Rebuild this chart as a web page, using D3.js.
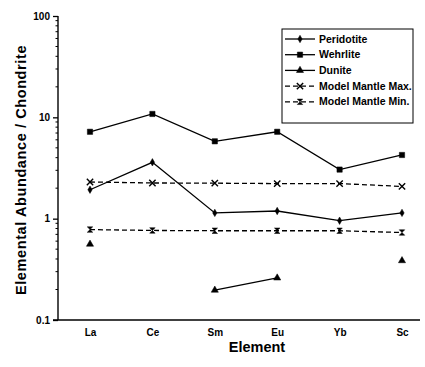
<!DOCTYPE html>
<html>
<head>
<meta charset="utf-8">
<script src="https://cdn.jsdelivr.net/npm/d3@7"></script>
<style>
  body { margin: 0; background: #fff; }
  svg text { font-family: "Liberation Sans", Arial, sans-serif; fill: #000; }
</style>
</head>
<body>
<div id="app"></div>
<script>
// ----- Data -----
const elements = ["La", "Ce", "Sm", "Eu", "Yb", "Sc"];
const peridotite = [1.93, 3.6, 1.14, 1.19, 0.955, 1.14];
const wehrlite = [7.2, 10.8, 5.8, 7.2, 3.05, 4.25];
const dunite = [0.56, null, 0.197, 0.26, null, 0.385];
const modelMax = [2.3, 2.25, 2.24, 2.22, 2.22, 2.08];
const modelMin = [0.78, 0.765, 0.76, 0.76, 0.76, 0.73];
const yTicks = [0.1, 1, 10, 100];
const seriesNames = ["Peridotite", "Wehrlite", "Dunite", "Model Mantle Max.", "Model Mantle Min."];

const W = 425, H = 367;
const svg = d3.select("#app").append("svg").attr("width", W).attr("height", H);

// scales
const x = d3.scalePoint().domain(elements).range([90, 402]);
const y = d3.scaleLog().domain([0.1, 100]).range([320, 16]);
const axisX0 = 58, axisX1 = 420;

// y axis
const yAxis = d3.axisLeft(y)
  .tickValues(yTicks)
  .tickFormat(d => d3.format("~g")(d))
  .tickSize(5)
  .tickPadding(3);
const gy = svg.append("g").attr("transform", `translate(${axisX0},0)`).call(yAxis);
gy.select(".domain").remove();
gy.selectAll(".tick line").attr("stroke", "#000").attr("stroke-width", 1.3);
gy.selectAll(".tick text").attr("font-size", 10).attr("font-weight", "bold");
// minor ticks
const minor = [];
[0.1, 1, 10].forEach(d => { for (let k = 2; k <= 9; k++) minor.push(d * k); });
gy.selectAll(".minor").data(minor).enter().append("line")
  .attr("x1", -2.5).attr("x2", 0)
  .attr("y1", d => y(d)).attr("y2", d => y(d))
  .attr("stroke", "#000").attr("stroke-width", 1);
svg.append("line").attr("x1", axisX0).attr("x2", axisX0).attr("y1", y(100)).attr("y2", y(0.1))
  .attr("stroke", "#000").attr("stroke-width", 1.4);

// x axis
svg.append("line").attr("x1", axisX0 - 5).attr("x2", axisX1).attr("y1", y(0.1)).attr("y2", y(0.1))
  .attr("stroke", "#000").attr("stroke-width", 1.4);
const xAxis = d3.axisBottom(x).tickSize(0).tickPadding(9);
const gx = svg.append("g").attr("transform", `translate(0,${y(0.1)})`).call(xAxis);
gx.select(".domain").remove();
gx.selectAll(".tick text").attr("font-size", 10).attr("font-weight", "bold");

// titles
svg.append("text").attr("x", 257).attr("y", 352).attr("text-anchor", "middle")
  .attr("font-size", 14.5).attr("font-weight", "bold").text("Element");
svg.append("text").attr("transform", "translate(26,170) rotate(-90)").attr("text-anchor", "middle")
  .attr("font-size", 14.5).attr("font-weight", "bold").attr("letter-spacing", 0.6)
  .text("Elemental Abundance / Chondrite");

// markers
const hourglass = { draw(ctx, size) { const r = Math.sqrt(size) / 2; ctx.moveTo(-r, -r); ctx.lineTo(r, -r); ctx.lineTo(-r, r); ctx.lineTo(r, r); ctx.closePath(); } };
const markers = [
  { fill: true, type: d3.symbolDiamond, size: 16 },
  { fill: true, type: d3.symbolSquare, size: 28 },
  { fill: true, type: d3.symbolTriangle, size: 22 },
  { fill: false, type: d3.symbolTimes, size: 28 },
  { fill: true, type: hourglass, size: 30 }
];
const dashes = [null, null, null, "5,3", "5,3"];
const allSeries = [peridotite, wehrlite, dunite, modelMax, modelMin];

const line = d3.line().defined(d => d.v != null).x(d => x(d.e)).y(d => y(d.v));

allSeries.forEach((vals, i) => {
  const pts = elements.map((e, j) => ({ e, v: vals[j] }));
  svg.append("path").datum(pts).attr("d", line)
    .attr("fill", "none").attr("stroke", "#000").attr("stroke-width", 1.3)
    .attr("stroke-dasharray", dashes[i]);
  const m = markers[i];
  svg.selectAll(null).data(pts.filter(d => d.v != null)).enter().append("path")
    .attr("d", d3.symbol().type(m.type).size(m.size))
    .attr("transform", d => `translate(${x(d.e)},${y(d.v)})`)
    .attr("fill", m.fill ? "#000" : "none").attr("stroke", "#000").attr("stroke-width", m.fill ? 0.5 : 1.4);
});

// legend
const lg = svg.append("g").attr("transform", "translate(282,29)");
lg.append("rect").attr("width", 131).attr("height", 94)
  .attr("fill", "#fff").attr("stroke", "#000").attr("stroke-width", 1);
seriesNames.forEach((name, i) => {
  const ly = 10 + i * 15.7;
  const m = markers[i];
  lg.append("line").attr("x1", 3).attr("x2", 33).attr("y1", ly).attr("y2", ly)
    .attr("stroke", "#000").attr("stroke-width", 1.3).attr("stroke-dasharray", dashes[i]);
  lg.append("path").attr("d", d3.symbol().type(m.type).size(m.size))
    .attr("transform", `translate(18,${ly})`)
    .attr("fill", m.fill ? "#000" : "none").attr("stroke", "#000").attr("stroke-width", m.fill ? 0.5 : 1.4);
  lg.append("text").attr("x", 37).attr("y", ly + 3.6).attr("font-size", 10.5).attr("font-weight", "bold").text(name);
});
</script>
</body>
</html>
